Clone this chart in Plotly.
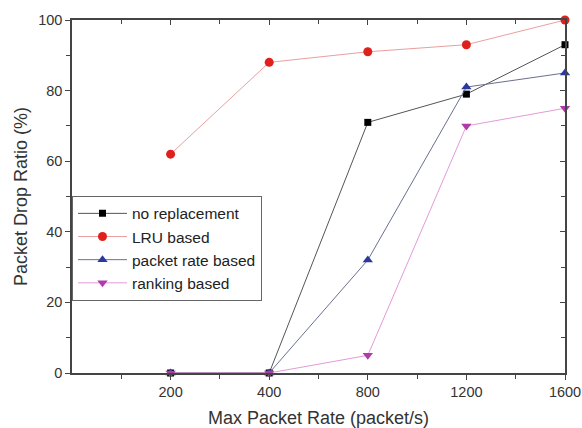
import plotly.graph_objects as go

categories = ["200", "400", "800", "1200", "1600"]
no_replacement = [0, 0, 71, 79, 93]
lru_based = [62, 88, 91, 93, 100]
packet_rate_based = [0, 0, 32, 81, 85]
ranking_based = [0, 0, 5, 70, 75]

xpos = list(range(1, len(categories) + 1))

series = [
    ("no replacement", no_replacement, "#000000", "#555555", "square", 7),
    ("LRU based", lru_based, "#e0201c", "#e8a0a0", "circle", 9),
    ("packet rate based", packet_rate_based, "#2a3a9c", "#6a7090", "triangle-up", 9),
    ("ranking based", ranking_based, "#b03aa8", "#e39ad8", "triangle-down", 9),
]

fig = go.Figure()
for name, vals, mc, lc, sym, sz in series:
    fig.add_trace(go.Scatter(
        x=xpos, y=vals, name=name, mode="lines+markers",
        line=dict(color=lc, width=1),
        marker=dict(color=mc, symbol=sym, size=sz, line=dict(width=0)),
        cliponaxis=False,
    ))

font = "Liberation Sans, Arial, sans-serif"
fig.update_layout(
    width=582, height=428,
    margin=dict(l=72, r=17, t=20, b=55, autoexpand=False),
    paper_bgcolor="white", plot_bgcolor="white",
    font=dict(family=font, size=14.5, color="#333333"),
    showlegend=True,
    legend=dict(x=0, y=0.502, xanchor="left", yanchor="top",
                bordercolor="#666666", borderwidth=1, bgcolor="white",
                font=dict(size=15.5, color="#222222"), itemwidth=49,
                tracegroupgap=0),
    xaxis=dict(range=[0, 5], tickvals=xpos, ticktext=categories, automargin=False,
               ticks="outside", ticklen=5, tickcolor="#444",
               showline=True, linecolor="#444", linewidth=1.5,
               showgrid=False, zeroline=False,
               minor=dict(tickvals=[0.5, 1.5, 2.5, 3.5, 4.5], ticks="outside", ticklen=4, tickcolor="#444"),
               title=dict(text="Max Packet Rate (packet/s)", font=dict(size=18, color="#333"), standoff=12)),
    yaxis=dict(range=[0, 100], tickvals=[0, 20, 40, 60, 80, 100], automargin=False,
               ticks="outside", ticklen=5, tickcolor="#444",
               showline=True, linecolor="#444", linewidth=1.5,
               showgrid=False, zeroline=False,
               minor=dict(dtick=10, ticks="outside", ticklen=4, tickcolor="#444"),
               title=dict(text="Packet Drop Ratio (%)", font=dict(size=18, color="#333"), standoff=6)),
    xaxis2=dict(range=[0, 5], overlaying="x", side="top", tickvals=xpos, automargin=False,
                showticklabels=False, ticks="inside", ticklen=5, tickcolor="#444",
                showline=True, linecolor="#444", linewidth=1.5, showgrid=False, zeroline=False,
                minor=dict(tickvals=[0.5, 1.5, 2.5, 3.5, 4.5], ticks="inside", ticklen=4, tickcolor="#444")),
    yaxis2=dict(range=[0, 100], overlaying="y", side="right", tickvals=[0, 20, 40, 60, 80, 100], automargin=False,
                showticklabels=False, ticks="inside", ticklen=5, tickcolor="#444",
                showline=True, linecolor="#444", linewidth=1.5, showgrid=False, zeroline=False,
                minor=dict(dtick=10, ticks="inside", ticklen=4, tickcolor="#444")),
)
# invisible trace to activate the mirrored axes
fig.add_trace(go.Scatter(x=[None], y=[None], xaxis="x2", yaxis="y2", showlegend=False, hoverinfo="skip"))

fig.write_html("out.html", config={"displayModeBar": False},
               post_script="document.body.style.margin='0';document.body.style.padding='0';")
